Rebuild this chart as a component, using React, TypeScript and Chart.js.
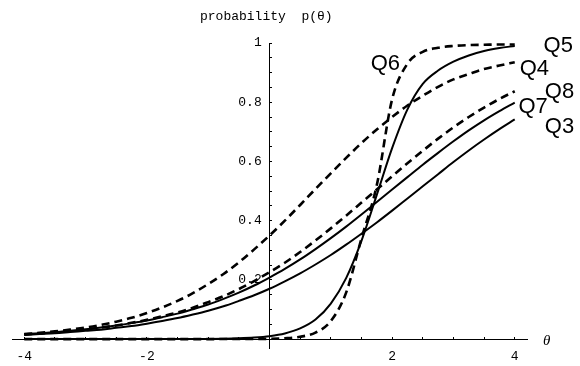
import { useEffect, useRef } from 'react';
import { Chart, registerables } from 'chart.js';

Chart.register(...registerables);

// ability values (theta)
const theta = [
  -4, -3.75, -3.5, -3.25, -3, -2.75, -2.5, -2.25, -2, -1.75, -1.5, -1.25, -1, -0.75, -0.5, -0.25,
  0, 0.25, 0.5, 0.75, 1, 1.25, 1.5, 1.75, 2, 2.25, 2.5, 2.75, 3, 3.25, 3.5, 3.75, 4,
];

// item characteristic curves
const q3 = [
  0.014, 0.017, 0.02, 0.024, 0.028, 0.032, 0.038, 0.044, 0.052, 0.061, 0.071, 0.083, 0.096, 0.111, 0.129, 0.148,
  0.17, 0.195, 0.222, 0.252, 0.284, 0.319, 0.356, 0.394, 0.434, 0.475, 0.516, 0.557, 0.598, 0.637, 0.674, 0.709, 0.742,
];
const q4 = [
  0.017, 0.021, 0.026, 0.032, 0.039, 0.048, 0.059, 0.072, 0.088, 0.107, 0.129, 0.155, 0.186, 0.22, 0.259, 0.303,
  0.35, 0.4, 0.453, 0.507, 0.56, 0.612, 0.662, 0.708, 0.75, 0.789, 0.822, 0.852, 0.877, 0.895, 0.912, 0.924, 0.935,
];
const q5 = [
  0.0001, 0.0001, 0.0001, 0.0001, 0.0001, 0.0001, 0.0002, 0.0002, 0.0002, 0.0003, 0.0004, 0.0006, 0.0008, 0.0015, 0.0028, 0.0053,
  0.01, 0.019, 0.036, 0.066, 0.12, 0.206, 0.332, 0.487, 0.645, 0.776, 0.862, 0.907, 0.937, 0.958, 0.973, 0.983, 0.99,
];
const q6 = [
  0.0001, 0.0001, 0.0001, 0.0001, 0.0001, 0.0001, 0.0001, 0.0001, 0.0001, 0.0001, 0.0001, 0.0001, 0.0001, 0.0002, 0.0002, 0.0003,
  0.001, 0.003, 0.008, 0.022, 0.061, 0.157, 0.34, 0.52, 0.81, 0.93, 0.97, 0.984, 0.99, 0.993, 0.994, 0.995, 0.995,
];
const q7 = [
  0.017, 0.02, 0.024, 0.028, 0.033, 0.039, 0.046, 0.054, 0.063, 0.074, 0.086, 0.101, 0.117, 0.136, 0.157, 0.181,
  0.208, 0.237, 0.269, 0.304, 0.341, 0.38, 0.421, 0.463, 0.505, 0.547, 0.589, 0.629, 0.668, 0.705, 0.739, 0.77, 0.799,
];
const q8 = [
  0.016, 0.019, 0.023, 0.028, 0.033, 0.039, 0.046, 0.055, 0.065, 0.077, 0.09, 0.106, 0.125, 0.145, 0.169, 0.196,
  0.226, 0.258, 0.294, 0.333, 0.374, 0.417, 0.461, 0.505, 0.55, 0.594, 0.636, 0.677, 0.715, 0.75, 0.782, 0.811, 0.837,
];

const seriesNames = ['Q3', 'Q4', 'Q5', 'Q6', 'Q7', 'Q8'];
const seriesValues = [q3, q4, q5, q6, q7, q8];
const dashedSeries = ['Q4', 'Q6', 'Q8'];

// ticks
const xTickValues = [-4, -3.5, -3, -2.5, -2, -1.5, -1, -0.5, 0.5, 1, 1.5, 2, 2.5, 3, 3.5, 4];
const xTickLabels = [-4, -2, 2, 4];
const yTickValues = [
  0.05, 0.1, 0.15, 0.2, 0.25, 0.3, 0.35, 0.4, 0.45, 0.5, 0.55, 0.6, 0.65, 0.7, 0.75, 0.8, 0.85, 0.9, 0.95, 1,
];
const yTickLabels = [0.2, 0.4, 0.6, 0.8, 1];

// curve name labels, anchored in data coordinates
const curveLabels = [
  { text: 'Q5', x: 4.47, y: 0.97 },
  { text: 'Q4', x: 4.08, y: 0.892 },
  { text: 'Q8', x: 4.49, y: 0.814 },
  { text: 'Q7', x: 4.06, y: 0.764 },
  { text: 'Q3', x: 4.49, y: 0.696 },
  { text: 'Q6', x: 1.65, y: 0.909 },
];

const MONO = '"Liberation Mono", "Courier New", monospace';

const textPlugin = {
  id: 'textPlugin',
  afterDraw(chart: any) {
    const ctx = chart.ctx;
    const xs = chart.scales.x;
    const ys = chart.scales.y;
    ctx.save();
    ctx.fillStyle = '#000';
    // title
    ctx.font = `13px ${MONO}`;
    ctx.textAlign = 'left';
    ctx.textBaseline = 'middle';
    ctx.fillText('probability  p(\u03b8)', 200, 17);
    // theta axis label
    ctx.font = 'italic 15px "Liberation Serif", serif';
    ctx.textAlign = 'left';
    ctx.fillText('\u03b8', 543, ys.getPixelForValue(0) + 2);
    // curve labels
    ctx.font = '22px "Liberation Sans", Arial, sans-serif';
    ctx.textBaseline = 'alphabetic';
    for (const l of curveLabels) {
      ctx.fillText(l.text, xs.getPixelForValue(l.x), ys.getPixelForValue(l.y));
    }
    ctx.restore();
  },
};

export default function App() {
  const ref = useRef<HTMLCanvasElement | null>(null);

  useEffect(() => {
    if (!ref.current) return;
    const datasets = seriesNames.map((name, k) => ({
      label: name,
      data: theta.map((t, i) => ({ x: t, y: seriesValues[k][i] })),
      borderColor: '#000',
      backgroundColor: '#000',
      borderWidth: dashedSeries.includes(name) ? 2.6 : 2,
      borderDash: dashedSeries.includes(name) ? [8, 5] : [],
      pointRadius: 0,
      fill: false,
      cubicInterpolationMode: 'monotone' as const,
    }));

    const chart = new Chart(ref.current, {
      type: 'line',
      data: { datasets },
      options: {
        responsive: false,
        animation: false,
        devicePixelRatio: 1,
        layout: { padding: { left: 12, right: 53, top: 43, bottom: 18 } },
        plugins: { legend: { display: false }, tooltip: { enabled: false }, title: { display: false } },
        scales: {
          x: {
            type: 'linear',
            min: -4.2,
            max: 4.2,
            position: { y: 0 } as any,
            border: { display: true, color: '#000', width: 1 },
            grid: { display: true, drawOnChartArea: false, drawTicks: true, tickLength: -3, tickColor: '#000', tickWidth: 1 },
            afterBuildTicks: (s: any) => {
              s.ticks = xTickValues.map((v) => ({ value: v }));
            },
            ticks: {
              autoSkip: false,
              maxRotation: 0,
              minRotation: 0,
              padding: 13,
              color: '#000',
              font: { family: MONO, size: 13 },
              callback: (v: any) => (xTickLabels.some((t) => Math.abs(t - v) < 1e-6) ? String(v) : ''),
            },
          },
          y: {
            type: 'linear',
            min: -0.03,
            max: 1,
            position: { x: 0 } as any,
            border: { display: true, color: '#000', width: 1 },
            grid: { display: true, drawOnChartArea: false, drawTicks: true, tickLength: -3, tickColor: '#000', tickWidth: 1 },
            afterBuildTicks: (s: any) => {
              s.ticks = yTickValues.map((v) => ({ value: v }));
            },
            ticks: {
              autoSkip: false,
              padding: 3,
              color: '#000',
              font: { family: MONO, size: 13 },
              callback: (v: any) => {
                const m = yTickLabels.find((t) => Math.abs(t - v) < 1e-6);
                if (m === undefined) return '';
                return (m === 1 ? '1' : m.toFixed(1)) + ' ';
              },
            },
          },
        },
      },
      plugins: [textPlugin],
    });
    return () => chart.destroy();
  }, []);

  return (
    <div style={{ position: 'absolute', left: 0, top: 0, width: 580, height: 366, background: '#fff' }}>
      <canvas ref={ref} width={580} height={366} style={{ width: 580, height: 366, display: 'block' }} />
    </div>
  );
}
